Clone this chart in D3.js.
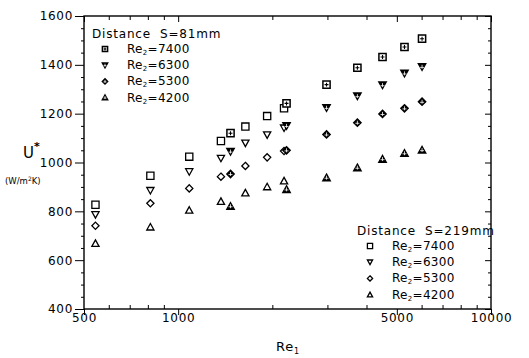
<!DOCTYPE html>
<html>
<head>
<meta charset="utf-8">
<script src="https://cdn.jsdelivr.net/npm/d3@7"></script>
<style>
  body { margin: 0; background: #fff; }
  svg { display: block; font-family: "DejaVu Sans", sans-serif; }
</style>
</head>
<body>
<svg id="chart" width="529" height="358"></svg>
<script>
// Re1 values of each measurement column
const re219 = [544, 815, 1085, 1370, 1640, 1925, 2180];
const re81 = [1470, 2220, 2980, 3740, 4500, 5290, 6020];

// U* (W/m2K), distance S=219mm (open markers)
const u219_7400 = [827, 946, 1024, 1088, 1147, 1190, 1222];
const u219_6300 = [786, 885, 962, 1017, 1079, 1113, 1141];
const u219_5300 = [741, 833, 894, 942, 986, 1021, 1047];
const u219_4200 = [669, 736, 805, 841, 876, 901, 925];

// U* (W/m2K), distance S=81mm (filled markers)
const u81_7400 = [1120, 1242, 1319, 1388, 1432, 1473, 1507];
const u81_6300 = [1045, 1150, 1224, 1272, 1317, 1365, 1392];
const u81_5300 = [953, 1050, 1115, 1163, 1199, 1222, 1249];
const u81_4200 = [821, 890, 938, 979, 1014, 1038, 1051];

const re2Labels = ['7400', '6300', '5300', '4200'];
const shapes = ['square', 'down', 'diamond', 'up'];
const xTicks = [500, 1000, 5000, 10000];
const yTicks = [400, 600, 800, 1000, 1200, 1400, 1600];

const svg = d3.select('#chart');
const mLeft = 84, mRight = 491, mTop = 16, mBottom = 309;

const x = d3.scaleLog().domain([500, 10000]).range([mLeft, mRight]);
const y = d3.scaleLinear().domain([400, 1600]).range([mBottom, mTop]);

const xMinor = [];
[100, 1000].forEach((d) => {
  for (let k = 1; k < 10; k++) {
    const v = d * k;
    if (v > 500 && v < 10000 && !xTicks.includes(v)) xMinor.push(v);
  }
});
const yMinor = d3.range(400, 1601, 50).filter((v) => !yTicks.includes(v));

function markerPath(shape, r) {
  if (shape === 'square') return `M${-r},${-r}H${r}V${r}H${-r}Z`;
  if (shape === 'down') return `M${-r},${-r * 0.85}H${r}L0,${r * 0.95}Z`;
  if (shape === 'up') return `M0,${-r * 0.95}L${r},${r * 0.85}H${-r}Z`;
  return `M0,${-r}L${r},0L0,${r}L${-r},0Z`;
}

function drawMarker(sel, shape, filled, r) {
  sel.append('path')
    .attr('d', markerPath(shape, r))
    .attr('fill', filled && shape !== 'square' ? '#000' : '#fff')
    .attr('stroke', '#000')
    .attr('stroke-width', filled ? 1.5 : 1.3);
  if (filled) {
    // crossed look of the S=81mm symbols
    const c = shape === 'square' ? '#000' : '#fff';
    const k = r * 0.55;
    sel.append('path')
      .attr('d', `M0,${-k}V${k}M${-k},${shape === 'square' ? 0 : k * 0.3}H${k}`)
      .attr('stroke', c)
      .attr('stroke-width', shape === 'square' ? 1.1 : 0.8);
  }
}

function styleAxis(g) {
  g.select('.domain').remove();
  g.selectAll('line').attr('stroke', '#000').attr('stroke-width', 1);
  g.selectAll('text').attr('fill', '#000').attr('font-size', 12).attr('letter-spacing', 0.7)
    .attr('font-family', '"DejaVu Sans", sans-serif');
}

svg.append('rect')
  .attr('x', mLeft).attr('y', mTop)
  .attr('width', mRight - mLeft).attr('height', mBottom - mTop)
  .attr('fill', 'none').attr('stroke', '#000').attr('stroke-width', 1.4);

svg.append('g').attr('transform', `translate(0,${mBottom})`)
  .call(d3.axisBottom(x).tickValues(xTicks).tickSize(6).tickPadding(-2).tickFormat(d3.format('d')))
  .call(styleAxis);
svg.append('g').attr('transform', `translate(0,${mBottom})`)
  .call(d3.axisBottom(x).tickValues(xMinor).tickSize(-4).tickFormat(''))
  .call(styleAxis);
svg.append('g').attr('transform', `translate(0,${mTop})`)
  .call(d3.axisTop(x).tickValues(xTicks).tickSize(-6).tickFormat(''))
  .call(styleAxis);
svg.append('g').attr('transform', `translate(0,${mTop})`)
  .call(d3.axisTop(x).tickValues(xMinor).tickSize(-4).tickFormat(''))
  .call(styleAxis);

svg.append('g').attr('transform', `translate(${mLeft},0)`)
  .call(d3.axisLeft(y).tickValues(yTicks).tickSize(9).tickPadding(2).tickFormat(d3.format('d')))
  .call(styleAxis);
svg.append('g').attr('transform', `translate(${mLeft},0)`)
  .call(d3.axisLeft(y).tickValues(yMinor).tickSize(3).tickFormat(''))
  .call(styleAxis);
svg.append('g').attr('transform', `translate(${mRight},0)`)
  .call(d3.axisRight(y).tickValues(yTicks).tickSize(-6).tickFormat(''))
  .call(styleAxis);
svg.append('g').attr('transform', `translate(${mRight},0)`)
  .call(d3.axisRight(y).tickValues(yMinor).tickSize(-3).tickFormat(''))
  .call(styleAxis);

// axis titles
const xt = svg.append('text').attr('x', 276).attr('y', 351).attr('font-size', 13).attr('letter-spacing', 0.8);
xt.append('tspan').text('Re');
xt.append('tspan').attr('font-size', 8).attr('dy', 2.5).text('1');

const yt = svg.append('text').attr('x', 23).attr('y', 158).attr('font-size', 15);
yt.append('tspan').text('U');
yt.append('tspan').attr('font-size', 11).attr('dy', -8).attr('font-weight', 'bold').text('*');

const unit = svg.append('text').attr('x', 5).attr('y', 184).attr('font-size', 8.5);
unit.append('tspan').text('(W/m');
unit.append('tspan').attr('font-size', 6).attr('dy', -3).text('2');
unit.append('tspan').attr('dy', 3).text('K)');

// data
const series219 = [u219_7400, u219_6300, u219_5300, u219_4200];
const series81 = [u81_7400, u81_6300, u81_5300, u81_4200];

function drawSeries(vals, res, shape, filled) {
  svg.append('g').selectAll('g')
    .data(vals.map((v, j) => ({ re: res[j], u: v })))
    .join('g')
    .attr('transform', (d) => `translate(${x(d.re)},${y(d.u)})`)
    .each(function () { drawMarker(d3.select(this), shape, filled, 3.6); });
}
series219.forEach((vals, i) => drawSeries(vals, re219, shapes[i], false));
series81.forEach((vals, i) => drawSeries(vals, re81, shapes[i], true));

// legends
function legend(x0, y0, title, filled) {
  const g = svg.append('g');
  g.append('text').attr('x', x0).attr('y', y0).attr('font-size', 12).attr('letter-spacing', 0.8)
    .style('white-space', 'pre').text(title);
  re2Labels.forEach((lab, i) => {
    const yy = y0 + 15 + i * 16.2;
    const m = g.append('g').attr('transform', `translate(${x0 + 13},${yy - 4})`);
    drawMarker(m, shapes[i], filled, 2.6);
    const t = g.append('text').attr('x', x0 + 35).attr('y', yy).attr('font-size', 12).attr('letter-spacing', 0.3);
    t.append('tspan').text('Re');
    t.append('tspan').attr('font-size', 7).attr('dy', 2).text('2');
    t.append('tspan').attr('dy', -2).text('=' + lab);
  });
}
legend(92, 38, 'Distance  S=81mm', true);
legend(357, 235, 'Distance  S=219mm', false);
</script>
</body>
</html>
